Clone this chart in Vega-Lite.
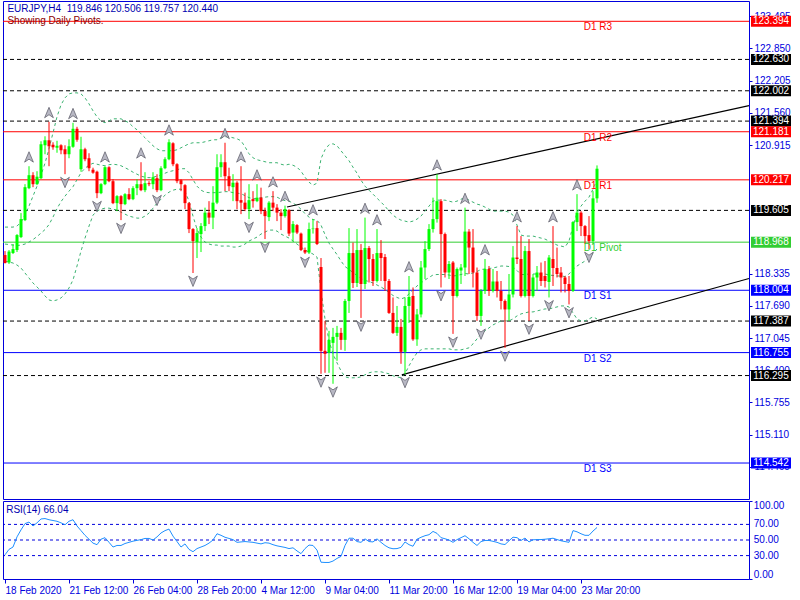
{
"$schema": "https://vega.github.io/schema/vega-lite/v6.json",
"background": "#ffffff",
"padding": {"left": 2, "top": 0, "right": 2, "bottom": 2},
"spacing": 2,
"bounds": "flush",
"config": {
 "view": {"stroke": "#0000dd", "strokeWidth": 1},
 "scale": {"continuousPadding": 0},
 "axis": {"labelFont": "Liberation Sans", "labelFontSize": 10, "labelColor": "#0000dd", "tickColor": "#0000dd", "domain": false, "grid": false, "labelOverlap": false},
 "text": {"font": "Liberation Sans", "fontSize": 10}
},
"datasets": {
 "levels": [
  {"v": 123.394, "k": "R", "n": "D1 R3"},
  {"v": 122.630, "k": "L", "n": ""},
  {"v": 122.002, "k": "L", "n": ""},
  {"v": 121.394, "k": "L", "n": ""},
  {"v": 121.181, "k": "R", "n": "D1 R2"},
  {"v": 120.217, "k": "R", "n": "D1 R1"},
  {"v": 119.605, "k": "L", "n": ""},
  {"v": 118.968, "k": "P", "n": "D1 Pivot"},
  {"v": 118.004, "k": "S", "n": "D1 S1"},
  {"v": 117.387, "k": "L", "n": ""},
  {"v": 116.755, "k": "S", "n": "D1 S2"},
  {"v": 116.295, "k": "L", "n": ""},
  {"v": 114.542, "k": "S", "n": "D1 S3"}
 ],
 "rsilevels": [{"lv": 70}, {"lv": 50}, {"lv": 30}],
 "rsiticks": [{"lv": 100}, {"lv": 70}, {"lv": 50}, {"lv": 30}, {"lv": 0}],
 "trends": [
  {"t": "a", "i": 70.5, "p": 119.673},
  {"t": "a", "i": 186, "p": 121.705},
  {"t": "b", "i": 99.2, "p": 116.31},
  {"t": "b", "i": 186, "p": 118.24}
 ],
 "bars": [
  {"i":0,"o":118.71,"h":118.79,"l":118.54,"c":118.55,"u":119.27,"m":118.93,"b":118.59,"r":31},
  {"i":1,"o":118.56,"h":118.81,"l":118.53,"c":118.78,"u":119.27,"m":118.92,"b":118.57,"r":38},
  {"i":2,"o":118.75,"h":118.93,"l":118.73,"c":118.83,"u":119.27,"m":118.91,"b":118.55,"r":41},
  {"i":3,"o":118.81,"h":119.13,"l":118.77,"c":119.11,"u":119.29,"m":118.90,"b":118.51,"r":54},
  {"i":4,"o":119.07,"h":119.55,"l":119.05,"c":119.43,"u":119.37,"m":118.91,"b":118.45,"r":63},
  {"i":5,"o":119.41,"h":120.13,"l":119.39,"c":120.07,"u":119.51,"m":118.93,"b":118.35,"r":71},
  {"i":6,"o":120.05,"h":120.49,"l":120.03,"c":120.31,"u":119.69,"m":118.97,"b":118.25,"r":73,"f":"u"},
  {"i":7,"o":120.31,"h":120.37,"l":120.07,"c":120.13,"u":119.89,"m":119.02,"b":118.15,"r":68},
  {"i":8,"o":120.13,"h":120.39,"l":120.11,"c":120.28,"u":120.09,"m":119.08,"b":118.07,"r":72},
  {"i":9,"o":120.25,"h":120.99,"l":120.23,"c":120.93,"u":120.31,"m":119.15,"b":117.99,"r":77},
  {"i":10,"o":120.91,"h":121.09,"l":120.73,"c":121.01,"u":120.55,"m":119.22,"b":117.89,"r":77.5},
  {"i":11,"o":121.01,"h":121.38,"l":120.49,"c":120.89,"u":120.84,"m":119.32,"b":117.81,"r":76,"f":"u"},
  {"i":12,"o":120.92,"h":120.97,"l":120.82,"c":120.87,"u":121.16,"m":119.47,"b":117.79,"r":75},
  {"i":13,"o":120.86,"h":121.00,"l":120.76,"c":120.90,"u":121.48,"m":119.64,"b":117.81,"r":74},
  {"i":14,"o":120.91,"h":120.93,"l":120.73,"c":120.81,"u":121.72,"m":119.78,"b":117.85,"r":72},
  {"i":15,"o":120.83,"h":120.91,"l":120.33,"c":120.73,"u":121.86,"m":119.89,"b":117.93,"r":69.5,"f":"d"},
  {"i":16,"o":120.73,"h":121.03,"l":120.65,"c":120.89,"u":121.94,"m":119.99,"b":118.05,"r":74},
  {"i":17,"o":120.88,"h":121.36,"l":120.86,"c":121.24,"u":121.96,"m":120.08,"b":118.21,"r":76,"f":"u"},
  {"i":18,"o":121.24,"h":121.28,"l":120.98,"c":121.02,"u":121.96,"m":120.22,"b":118.49,"r":68},
  {"i":19,"o":120.43,"h":121.08,"l":120.38,"c":120.83,"u":121.94,"m":120.36,"b":118.79,"r":62},
  {"i":20,"o":120.83,"h":120.86,"l":120.59,"c":120.63,"u":121.86,"m":120.45,"b":119.05,"r":56},
  {"i":21,"o":120.65,"h":120.75,"l":120.39,"c":120.45,"u":121.74,"m":120.51,"b":119.29,"r":51},
  {"i":22,"o":120.42,"h":120.46,"l":120.34,"c":120.36,"u":121.60,"m":120.55,"b":119.51,"r":46},
  {"i":23,"o":120.38,"h":120.40,"l":119.85,"c":119.95,"u":121.48,"m":120.53,"b":119.59,"r":44,"f":"d"},
  {"i":24,"o":119.95,"h":120.15,"l":119.93,"c":120.13,"u":121.40,"m":120.51,"b":119.63,"r":51},
  {"i":25,"o":120.13,"h":120.49,"l":120.11,"c":120.47,"u":121.36,"m":120.50,"b":119.65,"r":53,"f":"u"},
  {"i":26,"o":120.47,"h":120.49,"l":120.17,"c":120.19,"u":121.40,"m":120.52,"b":119.65,"r":47},
  {"i":27,"o":120.19,"h":120.23,"l":119.73,"c":119.75,"u":121.44,"m":120.53,"b":119.63,"r":41},
  {"i":28,"o":119.75,"h":119.91,"l":119.59,"c":119.89,"u":121.44,"m":120.52,"b":119.61,"r":43},
  {"i":29,"o":119.89,"h":119.91,"l":119.41,"c":119.73,"u":121.44,"m":120.50,"b":119.57,"r":43,"f":"d"},
  {"i":30,"o":119.73,"h":119.95,"l":119.71,"c":119.93,"u":121.40,"m":120.46,"b":119.53,"r":45.5},
  {"i":31,"o":119.93,"h":120.05,"l":119.81,"c":119.83,"u":121.36,"m":120.42,"b":119.49,"r":47},
  {"i":32,"o":119.83,"h":120.09,"l":119.81,"c":120.05,"u":121.28,"m":120.37,"b":119.47,"r":48.5},
  {"i":33,"o":120.05,"h":120.23,"l":119.91,"c":120.13,"u":121.22,"m":120.33,"b":119.45,"r":49.5},
  {"i":34,"o":120.13,"h":120.57,"l":119.99,"c":120.01,"u":121.14,"m":120.29,"b":119.45,"r":50.5,"f":"u"},
  {"i":35,"o":120.01,"h":120.37,"l":119.97,"c":120.15,"u":121.06,"m":120.27,"b":119.49,"r":52},
  {"i":36,"o":120.15,"h":120.19,"l":120.09,"c":120.13,"u":120.98,"m":120.26,"b":119.55,"r":52},
  {"i":37,"o":120.13,"h":120.37,"l":120.03,"c":120.27,"u":120.90,"m":120.27,"b":119.65,"r":50},
  {"i":38,"o":120.25,"h":120.33,"l":119.97,"c":120.01,"u":120.84,"m":120.29,"b":119.75,"r":54,"f":"d"},
  {"i":39,"o":120.01,"h":120.49,"l":119.99,"c":120.45,"u":120.80,"m":120.31,"b":119.83,"r":59},
  {"i":40,"o":120.45,"h":120.67,"l":120.43,"c":120.63,"u":120.80,"m":120.35,"b":119.91,"r":62},
  {"i":41,"o":120.63,"h":121.03,"l":120.61,"c":120.97,"u":120.80,"m":120.38,"b":119.97,"r":64,"f":"u"},
  {"i":42,"o":120.95,"h":120.97,"l":120.49,"c":120.53,"u":120.80,"m":120.40,"b":120.01,"r":55},
  {"i":43,"o":120.53,"h":120.55,"l":120.15,"c":120.19,"u":120.82,"m":120.42,"b":120.03,"r":48},
  {"i":44,"o":120.21,"h":120.23,"l":119.99,"c":120.13,"u":120.86,"m":120.44,"b":120.03,"r":41},
  {"i":45,"o":120.11,"h":120.13,"l":119.63,"c":119.75,"u":120.90,"m":120.44,"b":119.99,"r":45},
  {"i":46,"o":119.75,"h":119.77,"l":119.15,"c":119.23,"u":120.94,"m":120.36,"b":119.79,"r":38},
  {"i":47,"o":119.23,"h":119.25,"l":118.35,"c":118.99,"u":120.96,"m":120.22,"b":119.49,"r":35,"f":"d"},
  {"i":48,"o":118.97,"h":119.25,"l":118.65,"c":119.15,"u":120.96,"m":120.09,"b":119.23,"r":39},
  {"i":49,"o":119.13,"h":119.35,"l":118.77,"c":119.29,"u":120.96,"m":120.01,"b":119.07,"r":41},
  {"i":50,"o":119.29,"h":119.66,"l":119.19,"c":119.56,"u":120.98,"m":119.97,"b":118.97,"r":43},
  {"i":51,"o":119.56,"h":119.79,"l":119.33,"c":119.46,"u":121.00,"m":119.96,"b":118.93,"r":46},
  {"i":52,"o":119.46,"h":120.09,"l":119.23,"c":119.76,"u":121.02,"m":119.96,"b":118.91,"r":50},
  {"i":53,"o":119.76,"h":120.73,"l":119.73,"c":120.47,"u":121.02,"m":119.96,"b":118.91,"r":58},
  {"i":54,"o":120.47,"h":120.73,"l":120.27,"c":120.57,"u":121.06,"m":119.97,"b":118.89,"r":56},
  {"i":55,"o":120.57,"h":120.96,"l":119.99,"c":120.29,"u":121.08,"m":119.98,"b":118.89,"r":53.5,"f":"u"},
  {"i":56,"o":120.29,"h":120.46,"l":119.99,"c":120.09,"u":121.08,"m":119.98,"b":118.89,"r":52},
  {"i":57,"o":120.07,"h":120.33,"l":119.79,"c":120.16,"u":121.06,"m":119.96,"b":118.87,"r":50.5},
  {"i":58,"o":120.16,"h":120.19,"l":119.63,"c":119.79,"u":121.04,"m":119.95,"b":118.87,"r":47},
  {"i":59,"o":119.81,"h":120.49,"l":119.53,"c":119.76,"u":121.00,"m":119.94,"b":118.89,"r":47.5,"f":"u"},
  {"i":60,"o":119.76,"h":119.96,"l":119.59,"c":119.63,"u":120.88,"m":119.90,"b":118.93,"r":48},
  {"i":61,"o":119.63,"h":120.13,"l":119.43,"c":119.81,"u":120.74,"m":119.86,"b":118.99,"r":47.5,"f":"d"},
  {"i":62,"o":119.83,"h":119.99,"l":119.66,"c":119.79,"u":120.66,"m":119.84,"b":119.03,"r":47},
  {"i":63,"o":119.79,"h":120.13,"l":119.77,"c":119.86,"u":120.62,"m":119.84,"b":119.07,"r":46,"f":"u"},
  {"i":64,"o":119.86,"h":120.06,"l":119.53,"c":119.59,"u":120.60,"m":119.86,"b":119.13,"r":45},
  {"i":65,"o":119.59,"h":119.66,"l":119.03,"c":119.49,"u":120.58,"m":119.87,"b":119.17,"r":46.5,"f":"d"},
  {"i":66,"o":119.47,"h":119.79,"l":119.39,"c":119.76,"u":120.56,"m":119.88,"b":119.21,"r":46},
  {"i":67,"o":119.76,"h":119.99,"l":119.59,"c":119.66,"u":120.56,"m":119.88,"b":119.21,"r":44,"f":"u"},
  {"i":68,"o":119.66,"h":119.73,"l":119.39,"c":119.56,"u":120.56,"m":119.87,"b":119.19,"r":42.5},
  {"i":69,"o":119.56,"h":119.63,"l":119.21,"c":119.49,"u":120.53,"m":119.83,"b":119.13,"r":41.5},
  {"i":70,"o":119.49,"h":119.70,"l":119.46,"c":119.63,"u":120.51,"m":119.80,"b":119.09,"r":40.5,"f":"u"},
  {"i":71,"o":119.61,"h":119.63,"l":119.09,"c":119.14,"u":120.53,"m":119.79,"b":119.05,"r":39},
  {"i":72,"o":119.16,"h":119.39,"l":118.98,"c":119.33,"u":120.51,"m":119.75,"b":118.99,"r":40},
  {"i":73,"o":119.31,"h":119.33,"l":119.13,"c":119.16,"u":120.47,"m":119.70,"b":118.93,"r":36},
  {"i":74,"o":119.14,"h":119.16,"l":118.79,"c":118.81,"u":120.39,"m":119.63,"b":118.87,"r":32.5},
  {"i":75,"o":118.81,"h":118.86,"l":118.73,"c":118.76,"u":120.27,"m":119.54,"b":118.81,"r":39,"f":"d"},
  {"i":76,"o":118.76,"h":119.36,"l":118.73,"c":119.23,"u":120.17,"m":119.47,"b":118.77,"r":43.5},
  {"i":77,"o":119.23,"h":119.43,"l":119.14,"c":119.24,"u":120.11,"m":119.42,"b":118.73,"r":43,"f":"u"},
  {"i":78,"o":119.25,"h":119.39,"l":118.91,"c":118.93,"u":120.15,"m":119.41,"b":118.67,"r":37},
  {"i":79,"o":118.47,"h":118.65,"l":116.33,"c":116.79,"u":120.64,"m":119.31,"b":117.99,"r":21.5,"f":"d"},
  {"i":80,"o":116.79,"h":117.39,"l":116.35,"c":116.73,"u":120.82,"m":119.12,"b":117.43,"r":21.2},
  {"i":81,"o":116.75,"h":117.19,"l":116.35,"c":117.01,"u":120.92,"m":118.95,"b":116.99,"r":21.2},
  {"i":82,"o":116.95,"h":117.25,"l":116.13,"c":117.07,"u":120.94,"m":118.83,"b":116.73,"r":23,"f":"d"},
  {"i":83,"o":117.07,"h":117.29,"l":116.59,"c":117.15,"u":120.90,"m":118.72,"b":116.55,"r":26.4},
  {"i":84,"o":117.15,"h":117.25,"l":116.81,"c":117.01,"u":120.80,"m":118.59,"b":116.39,"r":29},
  {"i":85,"o":117.01,"h":117.83,"l":116.79,"c":117.79,"u":120.70,"m":118.48,"b":116.27,"r":43},
  {"i":86,"o":117.79,"h":119.25,"l":117.55,"c":118.75,"u":120.60,"m":118.42,"b":116.25,"r":52.3},
  {"i":87,"o":118.75,"h":118.96,"l":118.05,"c":118.15,"u":120.47,"m":118.36,"b":116.25,"r":52.3},
  {"i":88,"o":118.15,"h":119.23,"l":118.07,"c":118.81,"u":120.35,"m":118.30,"b":116.25,"r":48},
  {"i":89,"o":118.81,"h":118.93,"l":117.45,"c":118.13,"u":120.21,"m":118.24,"b":116.27,"r":47,"f":"d"},
  {"i":90,"o":118.13,"h":119.46,"l":118.03,"c":118.85,"u":120.09,"m":118.20,"b":116.31,"r":51.5,"f":"u"},
  {"i":91,"o":118.85,"h":118.89,"l":118.16,"c":118.63,"u":120.01,"m":118.18,"b":116.35,"r":48},
  {"i":92,"o":118.63,"h":118.73,"l":118.09,"c":118.19,"u":119.93,"m":118.15,"b":116.37,"r":47.5},
  {"i":93,"o":118.19,"h":119.23,"l":118.16,"c":118.75,"u":119.85,"m":118.11,"b":116.37,"r":51.5,"f":"u"},
  {"i":94,"o":118.75,"h":119.01,"l":118.19,"c":118.65,"u":119.77,"m":118.07,"b":116.37,"r":47},
  {"i":95,"o":118.67,"h":118.73,"l":117.99,"c":118.19,"u":119.69,"m":118.02,"b":116.35,"r":43},
  {"i":96,"o":118.19,"h":118.23,"l":117.53,"c":117.55,"u":119.59,"m":117.96,"b":116.33,"r":40},
  {"i":97,"o":117.55,"h":117.86,"l":117.13,"c":117.15,"u":119.51,"m":117.90,"b":116.29,"r":38.8},
  {"i":98,"o":117.15,"h":117.69,"l":117.09,"c":117.27,"u":119.45,"m":117.86,"b":116.27,"r":39},
  {"i":99,"o":117.27,"h":117.43,"l":116.53,"c":116.77,"u":119.41,"m":117.83,"b":116.25,"r":40.6},
  {"i":100,"o":116.77,"h":117.86,"l":116.32,"c":117.69,"u":119.39,"m":117.86,"b":116.33,"r":47.5,"f":"d"},
  {"i":101,"o":117.69,"h":118.29,"l":117.35,"c":117.87,"u":119.37,"m":117.93,"b":116.49,"r":44,"f":"u"},
  {"i":102,"o":117.89,"h":118.06,"l":116.99,"c":117.02,"u":119.39,"m":118.01,"b":116.63,"r":42},
  {"i":103,"o":117.02,"h":117.63,"l":116.89,"c":117.52,"u":119.43,"m":118.09,"b":116.75,"r":51},
  {"i":104,"o":117.52,"h":118.59,"l":117.46,"c":118.46,"u":119.49,"m":118.15,"b":116.81,"r":53.5},
  {"i":105,"o":118.46,"h":118.99,"l":118.23,"c":118.83,"u":119.59,"m":118.21,"b":116.83,"r":55.5},
  {"i":106,"o":118.83,"h":119.33,"l":118.79,"c":119.23,"u":119.69,"m":118.26,"b":116.83,"r":56.8},
  {"i":107,"o":119.23,"h":119.86,"l":119.16,"c":119.43,"u":119.79,"m":118.31,"b":116.83,"r":61},
  {"i":108,"o":119.43,"h":120.33,"l":119.36,"c":119.79,"u":119.81,"m":118.32,"b":116.83,"r":58.5,"f":"u"},
  {"i":109,"o":119.79,"h":119.83,"l":118.06,"c":119.13,"u":119.81,"m":118.32,"b":116.83,"r":53,"f":"d"},
  {"i":110,"o":119.13,"h":119.16,"l":118.26,"c":118.36,"u":119.81,"m":118.32,"b":116.83,"r":51.6},
  {"i":111,"o":118.36,"h":118.59,"l":118.23,"c":118.53,"u":119.79,"m":118.31,"b":116.83,"r":50},
  {"i":112,"o":118.56,"h":118.59,"l":117.13,"c":117.89,"u":119.77,"m":118.29,"b":116.81,"r":47,"f":"d"},
  {"i":113,"o":117.89,"h":118.46,"l":117.86,"c":118.43,"u":119.79,"m":118.30,"b":116.81,"r":50.5},
  {"i":114,"o":118.40,"h":118.53,"l":118.13,"c":118.46,"u":119.83,"m":118.32,"b":116.81,"r":53},
  {"i":115,"o":118.46,"h":119.66,"l":118.29,"c":119.18,"u":119.85,"m":118.34,"b":116.83,"r":55.5,"f":"u"},
  {"i":116,"o":119.18,"h":119.23,"l":118.33,"c":118.86,"u":119.81,"m":118.33,"b":116.85,"r":51.6},
  {"i":117,"o":118.86,"h":119.23,"l":118.06,"c":118.36,"u":119.77,"m":118.35,"b":116.93,"r":47},
  {"i":118,"o":118.36,"h":118.46,"l":117.39,"c":117.49,"u":119.73,"m":118.38,"b":117.03,"r":43},
  {"i":119,"o":117.49,"h":118.03,"l":117.29,"c":117.99,"u":119.71,"m":118.42,"b":117.13,"r":48,"f":"d"},
  {"i":120,"o":117.99,"h":118.63,"l":117.93,"c":118.43,"u":119.67,"m":118.43,"b":117.19,"r":49.4,"f":"u"},
  {"i":121,"o":118.43,"h":118.49,"l":117.89,"c":117.99,"u":119.63,"m":118.44,"b":117.25,"r":49.4},
  {"i":122,"o":117.99,"h":118.43,"l":117.96,"c":118.18,"u":119.59,"m":118.45,"b":117.31,"r":48.3},
  {"i":123,"o":118.18,"h":118.39,"l":117.86,"c":117.99,"u":119.59,"m":118.47,"b":117.35,"r":47},
  {"i":124,"o":117.99,"h":118.19,"l":117.62,"c":117.79,"u":119.59,"m":118.49,"b":117.39,"r":45},
  {"i":125,"o":117.79,"h":117.82,"l":116.85,"c":117.62,"u":119.59,"m":118.49,"b":117.39,"r":44.2,"f":"d"},
  {"i":126,"o":117.62,"h":118.33,"l":117.39,"c":117.92,"u":119.57,"m":118.48,"b":117.39,"r":49},
  {"i":127,"o":117.92,"h":118.89,"l":117.86,"c":118.66,"u":119.51,"m":118.47,"b":117.43,"r":53.6},
  {"i":128,"o":118.66,"h":119.29,"l":118.53,"c":118.63,"u":119.31,"m":118.40,"b":117.49,"r":53,"f":"u"},
  {"i":129,"o":118.63,"h":119.09,"l":117.86,"c":117.89,"u":119.11,"m":118.32,"b":117.53,"r":49.4},
  {"i":130,"o":117.89,"h":118.89,"l":117.86,"c":118.79,"u":119.09,"m":118.32,"b":117.55,"r":52.5},
  {"i":131,"o":118.79,"h":119.03,"l":117.39,"c":117.89,"u":119.09,"m":118.33,"b":117.57,"r":47.5,"f":"d"},
  {"i":132,"o":117.89,"h":118.33,"l":117.86,"c":118.26,"u":119.09,"m":118.33,"b":117.57,"r":50.3},
  {"i":133,"o":118.26,"h":118.49,"l":117.99,"c":118.36,"u":119.07,"m":118.33,"b":117.59,"r":50.5},
  {"i":134,"o":118.36,"h":118.56,"l":118.09,"c":118.19,"u":119.05,"m":118.33,"b":117.61,"r":50.6},
  {"i":135,"o":118.29,"h":118.59,"l":118.06,"c":118.19,"u":119.03,"m":118.33,"b":117.63,"r":51},
  {"i":136,"o":118.17,"h":118.71,"l":117.86,"c":118.66,"u":118.99,"m":118.31,"b":117.63,"r":51.6,"f":"d"},
  {"i":137,"o":118.63,"h":119.29,"l":118.09,"c":118.45,"u":118.95,"m":118.30,"b":117.65,"r":52.3,"f":"u"},
  {"i":138,"o":118.45,"h":118.86,"l":118.26,"c":118.33,"u":118.91,"m":118.29,"b":117.67,"r":50.6},
  {"i":139,"o":118.36,"h":118.47,"l":117.96,"c":118.26,"u":118.89,"m":118.29,"b":117.69,"r":49},
  {"i":140,"o":118.26,"h":118.29,"l":117.96,"c":118.13,"u":118.87,"m":118.28,"b":117.69,"r":48},
  {"i":141,"o":118.13,"h":118.29,"l":117.72,"c":117.99,"u":118.99,"m":118.33,"b":117.67,"r":47,"f":"d"},
  {"i":142,"o":117.99,"h":119.39,"l":117.97,"c":119.37,"u":119.29,"m":118.42,"b":117.55,"r":62},
  {"i":143,"o":119.37,"h":119.93,"l":119.19,"c":119.56,"u":119.55,"m":118.49,"b":117.43,"r":60.5,"f":"u"},
  {"i":144,"o":119.56,"h":119.59,"l":119.09,"c":119.29,"u":119.69,"m":118.54,"b":117.39,"r":58},
  {"i":145,"o":119.29,"h":119.31,"l":118.93,"c":119.09,"u":119.79,"m":118.59,"b":117.39,"r":56},
  {"i":146,"o":119.11,"h":119.49,"l":118.83,"c":118.99,"u":119.87,"m":118.65,"b":117.43,"r":56,"f":"d"},
  {"i":147,"o":118.99,"h":119.99,"l":118.93,"c":119.846,"u":120.03,"m":118.75,"b":117.47,"r":61.5},
  {"i":148,"o":119.846,"h":120.506,"l":119.757,"c":120.440,"u":120.23,"m":118.83,"b":117.43,"r":66.04}
 ]
},
"vconcat": [
 {
  "width": 746,
  "height": 498,
  "data": {"name": "bars"},
  "layer": [
   {
    "data": {"name": "levels"},
    "transform": [{"filter": "datum.k === 'L'"}],
    "mark": {"type": "rule", "color": "#000000", "strokeDash": [4, 3], "strokeWidth": 1},
    "encoding": {
     "y": {"field": "v", "type": "quantitative", "scale": {"domain": [113.821, 123.801], "nice": false, "zero": false, "padding": 0},
      "axis": {"orient": "right", "title": null, "values": [114.465, 115.11, 115.755, 116.4, 117.045, 117.69, 118.335, 120.915, 121.56, 122.205, 122.85, 123.495], "format": ".3f", "tickSize": 3, "labelPadding": 2}}
    }
   },
   {
    "data": {"name": "levels"},
    "transform": [{"filter": "datum.k !== 'L'"}],
    "mark": {"type": "rule", "strokeWidth": 1},
    "encoding": {
     "y": {"field": "v", "type": "quantitative", "scale": {"domain": [113.821, 123.801], "nice": false, "zero": false, "padding": 0}},
     "color": {"field": "k", "type": "nominal", "scale": {"domain": ["R", "P", "S", "L"], "range": ["#ff0000", "#32cd32", "#0000ff", "#000000"]}, "legend": null}
    }
   },
   {
    "mark": {"type": "line", "color": "#3cb371", "strokeDash": [3, 3], "strokeWidth": 1},
    "encoding": {
     "x": {"field": "i", "type": "quantitative", "scale": {"domain": [-0.5, 186], "nice": false, "zero": false, "padding": 0}, "axis": null},
     "y": {"field": "u", "type": "quantitative", "scale": {"domain": [113.821, 123.801], "nice": false, "zero": false, "padding": 0}}
    }
   },
   {
    "mark": {"type": "line", "color": "#3cb371", "strokeDash": [3, 3], "strokeWidth": 1},
    "encoding": {
     "x": {"field": "i", "type": "quantitative", "scale": {"domain": [-0.5, 186], "nice": false, "zero": false, "padding": 0}, "axis": null},
     "y": {"field": "m", "type": "quantitative", "scale": {"domain": [113.821, 123.801], "nice": false, "zero": false, "padding": 0}}
    }
   },
   {
    "mark": {"type": "line", "color": "#3cb371", "strokeDash": [3, 3], "strokeWidth": 1},
    "encoding": {
     "x": {"field": "i", "type": "quantitative", "scale": {"domain": [-0.5, 186], "nice": false, "zero": false, "padding": 0}, "axis": null},
     "y": {"field": "b", "type": "quantitative", "scale": {"domain": [113.821, 123.801], "nice": false, "zero": false, "padding": 0}}
    }
   },
   {
    "data": {"name": "trends"},
    "mark": {"type": "line", "color": "#000000", "strokeWidth": 1.2},
    "encoding": {
     "x": {"field": "i", "type": "quantitative", "scale": {"domain": [-0.5, 186], "nice": false, "zero": false, "padding": 0}, "axis": null},
     "y": {"field": "p", "type": "quantitative", "scale": {"domain": [113.821, 123.801], "nice": false, "zero": false, "padding": 0}},
     "detail": {"field": "t", "type": "nominal"}
    }
   },
   {
    "mark": {"type": "rule", "strokeWidth": 1},
    "encoding": {
     "x": {"field": "i", "type": "quantitative", "scale": {"domain": [-0.5, 186], "nice": false, "zero": false, "padding": 0}, "axis": null},
     "y": {"field": "l", "type": "quantitative", "scale": {"domain": [113.821, 123.801], "nice": false, "zero": false, "padding": 0}},
     "y2": {"field": "h"},
     "color": {"condition": {"test": "datum.c >= datum.o", "value": "#00ff00"}, "value": "#ff0000"}
    }
   },
   {
    "mark": {"type": "bar", "size": 3},
    "encoding": {
     "x": {"field": "i", "type": "quantitative", "scale": {"domain": [-0.5, 186], "nice": false, "zero": false, "padding": 0}, "axis": null},
     "y": {"field": "o", "type": "quantitative", "scale": {"domain": [113.821, 123.801], "nice": false, "zero": false, "padding": 0}},
     "y2": {"field": "c"},
     "color": {"condition": {"test": "datum.c >= datum.o", "value": "#00ff00"}, "value": "#ff0000"}
    }
   },
   {
    "transform": [{"filter": "datum.f === 'u'"}],
    "mark": {"type": "point", "shape": "M0,-1L0.8,0.9L0,0.35L-0.8,0.9Z", "filled": true, "size": 120, "fill": "#b8b8c4", "stroke": "#555562", "strokeWidth": 0.7, "opacity": 1, "yOffset": -9},
    "encoding": {
     "x": {"field": "i", "type": "quantitative", "scale": {"domain": [-0.5, 186], "nice": false, "zero": false, "padding": 0}, "axis": null},
     "y": {"field": "h", "type": "quantitative", "scale": {"domain": [113.821, 123.801], "nice": false, "zero": false, "padding": 0}}
    }
   },
   {
    "transform": [{"filter": "datum.f === 'd'"}],
    "mark": {"type": "point", "shape": "M0,1L0.8,-0.9L0,-0.35L-0.8,-0.9Z", "filled": true, "size": 120, "fill": "#b8b8c4", "stroke": "#555562", "strokeWidth": 0.7, "opacity": 1, "yOffset": 8},
    "encoding": {
     "x": {"field": "i", "type": "quantitative", "scale": {"domain": [-0.5, 186], "nice": false, "zero": false, "padding": 0}, "axis": null},
     "y": {"field": "l", "type": "quantitative", "scale": {"domain": [113.821, 123.801], "nice": false, "zero": false, "padding": 0}}
    }
   },
   {
    "data": {"name": "levels"},
    "transform": [{"filter": "datum.k !== 'L'"}],
    "mark": {"type": "text", "align": "left", "baseline": "top", "dy": 1, "fontSize": 10},
    "encoding": {
     "x": {"datum": 144.7, "type": "quantitative", "scale": {"domain": [-0.5, 186], "nice": false, "zero": false, "padding": 0}, "axis": null},
     "y": {"field": "v", "type": "quantitative", "scale": {"domain": [113.821, 123.801], "nice": false, "zero": false, "padding": 0}},
     "text": {"field": "n", "type": "nominal"},
     "color": {"field": "k", "type": "nominal", "scale": {"domain": ["R", "P", "S", "L"], "range": ["#ff0000", "#32cd32", "#0000ff", "#000000"]}, "legend": null}
    }
   },
   {
    "data": {"name": "levels"},
    "mark": {"type": "bar", "orient": "horizontal", "size": 11},
    "encoding": {
     "x": {"datum": 186.5, "type": "quantitative", "scale": {"domain": [-0.5, 186], "nice": false, "zero": false, "padding": 0}, "axis": null},
     "x2": {"datum": 196.5},
     "y": {"field": "v", "type": "quantitative", "scale": {"domain": [113.821, 123.801], "nice": false, "zero": false, "padding": 0}},
     "color": {"field": "k", "type": "nominal", "scale": {"domain": ["R", "P", "S", "L"], "range": ["#ff0000", "#32cd32", "#0000ff", "#000000"]}, "legend": null}
    }
   },
   {
    "data": {"name": "levels"},
    "mark": {"type": "text", "align": "center", "baseline": "middle", "color": "#ffffff", "fontSize": 10},
    "encoding": {
     "x": {"datum": 191.5, "type": "quantitative", "scale": {"domain": [-0.5, 186], "nice": false, "zero": false, "padding": 0}, "axis": null},
     "y": {"field": "v", "type": "quantitative", "scale": {"domain": [113.821, 123.801], "nice": false, "zero": false, "padding": 0}},
     "text": {"field": "v", "type": "quantitative", "format": ".3f"}
    }
   },
   {
    "data": {"values": [{"t": "EURJPY,H4\u00a0 119.846 120.506 119.757 120.440"}]},
    "mark": {"type": "text", "align": "left", "baseline": "top", "color": "#0000b0", "fontSize": 10},
    "encoding": {
     "x": {"datum": 0.6, "type": "quantitative", "scale": {"domain": [-0.5, 186], "nice": false, "zero": false, "padding": 0}, "axis": null},
     "y": {"datum": 123.74, "type": "quantitative", "scale": {"domain": [113.821, 123.801], "nice": false, "zero": false, "padding": 0}},
     "text": {"field": "t", "type": "nominal"}
    }
   },
   {
    "data": {"values": [{"t": "Showing Daily Pivots."}]},
    "mark": {"type": "text", "align": "left", "baseline": "top", "color": "#8b0000", "fontSize": 10},
    "encoding": {
     "x": {"datum": 0.6, "type": "quantitative", "scale": {"domain": [-0.5, 186], "nice": false, "zero": false, "padding": 0}, "axis": null},
     "y": {"datum": 123.50, "type": "quantitative", "scale": {"domain": [113.821, 123.801], "nice": false, "zero": false, "padding": 0}},
     "text": {"field": "t", "type": "nominal"}
    }
   }
  ]
 },
 {
  "width": 746,
  "height": 78,
  "data": {"name": "bars"},
  "layer": [
   {
    "data": {"name": "rsilevels"},
    "mark": {"type": "rule", "color": "#0000dd", "strokeDash": [3, 3], "strokeWidth": 1},
    "encoding": {
     "y": {"field": "lv", "type": "quantitative", "scale": {"domain": [0, 100], "nice": false, "zero": false, "padding": 0}}
    }
   },
   {
    "mark": {"type": "line", "color": "#1e90ff", "strokeWidth": 1},
    "encoding": {
     "x": {"field": "i", "type": "quantitative", "scale": {"domain": [-0.5, 186], "nice": false, "zero": false, "padding": 0},
      "axis": {"orient": "bottom", "title": null, "values": [0, 16, 32, 48, 64, 80, 96, 112, 128, 144], "labelExpr": "['18 Feb 2020','21 Feb 12:00','26 Feb 04:00','28 Feb 20:00','4 Mar 12:00','9 Mar 04:00','11 Mar 20:00','16 Mar 12:00','19 Mar 04:00','23 Mar 20:00'][round(datum.value / 16)]", "labelAlign": "left", "labelDx": -1, "tickSize": 4, "labelPadding": 2, "labelBaseline": "top", "labelOverlap": false}},
     "y": {"field": "r", "type": "quantitative", "scale": {"domain": [0, 100], "nice": false, "zero": false, "padding": 0},
      "axis": {"orient": "right", "title": null, "values": [0, 30, 50, 70, 100], "labels": false, "tickSize": 3}}
    }
   },
   {
    "data": {"name": "rsiticks"},
    "transform": [{"filter": "datum.lv >= 100"}],
    "mark": {"type": "text", "align": "left", "baseline": "top", "color": "#0000dd", "fontSize": 10},
    "encoding": {
     "x": {"datum": 187.2, "type": "quantitative", "scale": {"domain": [-0.5, 186], "nice": false, "zero": false, "padding": 0}},
     "y": {"field": "lv", "type": "quantitative", "scale": {"domain": [0, 100], "nice": false, "zero": false, "padding": 0}},
     "text": {"field": "lv", "type": "quantitative", "format": ".2f"}
    }
   },
   {
    "data": {"name": "rsiticks"},
    "transform": [{"filter": "datum.lv > 0 && datum.lv < 100"}],
    "mark": {"type": "text", "align": "left", "baseline": "middle", "color": "#0000dd", "fontSize": 10},
    "encoding": {
     "x": {"datum": 187.2, "type": "quantitative", "scale": {"domain": [-0.5, 186], "nice": false, "zero": false, "padding": 0}},
     "y": {"field": "lv", "type": "quantitative", "scale": {"domain": [0, 100], "nice": false, "zero": false, "padding": 0}},
     "text": {"field": "lv", "type": "quantitative", "format": ".2f"}
    }
   },
   {
    "data": {"name": "rsiticks"},
    "transform": [{"filter": "datum.lv <= 0"}],
    "mark": {"type": "text", "align": "left", "baseline": "alphabetic", "dy": -1, "color": "#0000dd", "fontSize": 10},
    "encoding": {
     "x": {"datum": 187.2, "type": "quantitative", "scale": {"domain": [-0.5, 186], "nice": false, "zero": false, "padding": 0}},
     "y": {"field": "lv", "type": "quantitative", "scale": {"domain": [0, 100], "nice": false, "zero": false, "padding": 0}},
     "text": {"field": "lv", "type": "quantitative", "format": ".2f"}
    }
   },
   {
    "data": {"values": [{"t": "RSI(14) 66.04"}]},
    "mark": {"type": "text", "align": "left", "baseline": "top", "color": "#0000b0", "fontSize": 10},
    "encoding": {
     "x": {"datum": 0.3, "type": "quantitative", "scale": {"domain": [-0.5, 186], "nice": false, "zero": false, "padding": 0}},
     "y": {"datum": 94.5, "type": "quantitative", "scale": {"domain": [0, 100], "nice": false, "zero": false, "padding": 0}},
     "text": {"field": "t", "type": "nominal"}
    }
   }
  ]
 }
]
}
